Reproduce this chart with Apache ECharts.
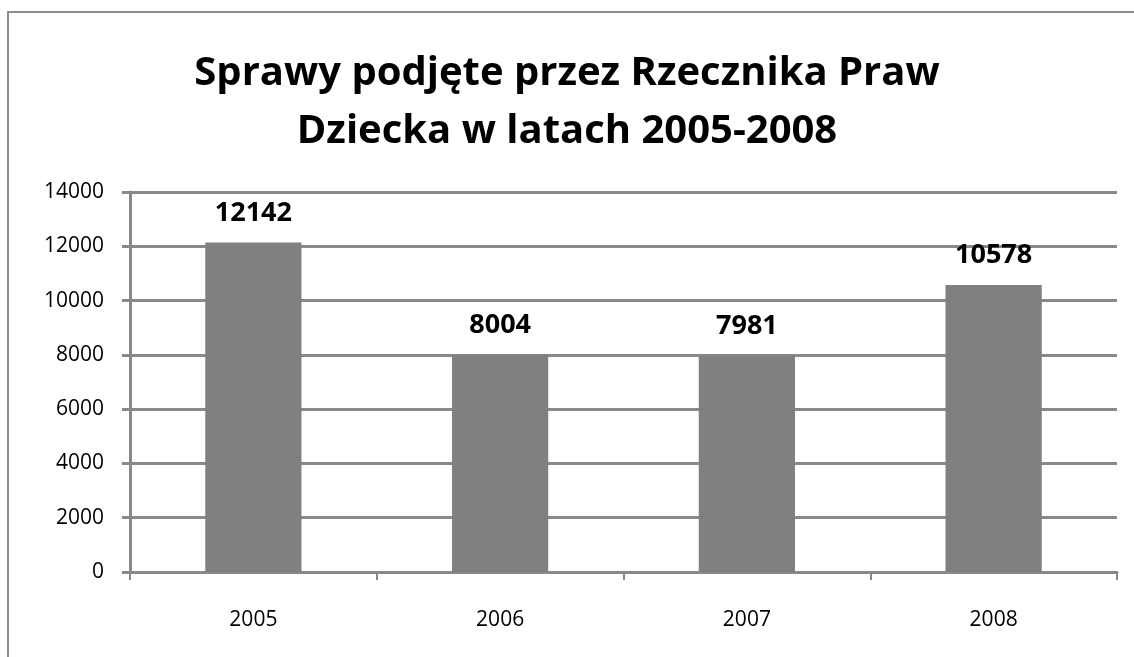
<!DOCTYPE html>
<html>
<head>
<meta charset="utf-8">
<script src="https://cdn.jsdelivr.net/npm/echarts@6/dist/echarts.min.js"></script>
<style>
  html, body { margin: 0; padding: 0; background: #fff; overflow: hidden; }
  #frame { position: absolute; left: 7px; top: 11px; width: 1200px; height: 700px; border-left: 2px solid #8c8c8c; border-top: 2px solid #8c8c8c; box-sizing: border-box; }
  #chart { position: absolute; left: 0; top: 0; width: 1134px; height: 657px; }
</style>
</head>
<body>
<div id="frame"></div>
<div id="chart"></div>
<script>
const years = ['2005', '2006', '2007', '2008'];
const cases = [12142, 8004, 7981, 10578];
const titleText = 'Sprawy podjęte przez Rzecznika Praw\nDziecka w latach 2005-2008';

const font = '"Open Sans", "Noto Sans", sans-serif';
const gridGray = '#898989';

const chart = echarts.init(document.getElementById('chart'));
chart.setOption({
  animation: false,
  title: {
    text: titleText,
    left: 'center',
    top: 40,
    textStyle: { fontFamily: font, fontSize: 40, fontWeight: 'bold', color: '#000', lineHeight: 58 }
  },
  grid: { left: 130, right: 17, top: 192, bottom: 85 },
  xAxis: {
    type: 'category',
    data: years,
    axisLine: { lineStyle: { color: gridGray, width: 3 } },
    axisTick: { show: true, alignWithLabel: false, length: 8, lineStyle: { color: gridGray, width: 2 } },
    axisLabel: { fontFamily: font, fontSize: 21, color: '#000', margin: 38 }
  },
  yAxis: {
    type: 'value',
    min: 0,
    max: 14000,
    interval: 2000,
    axisLine: { show: true, lineStyle: { color: gridGray, width: 3 } },
    axisTick: { show: true, length: 8, lineStyle: { color: gridGray, width: 3 } },
    splitLine: { lineStyle: { color: gridGray, width: 3 } },
    axisLabel: { fontFamily: font, fontSize: 21, color: '#000', margin: 26, formatter: (v) => String(v) }
  },
  series: [{
    type: 'bar',
    data: cases,
    barWidth: '39%',
    itemStyle: { color: '#808080' },
    label: {
      show: true,
      position: 'top',
      distance: 16,
      fontFamily: font,
      fontSize: 27,
      fontWeight: 'bold',
      color: '#000'
    }
  }]
});
</script>
</body>
</html>
